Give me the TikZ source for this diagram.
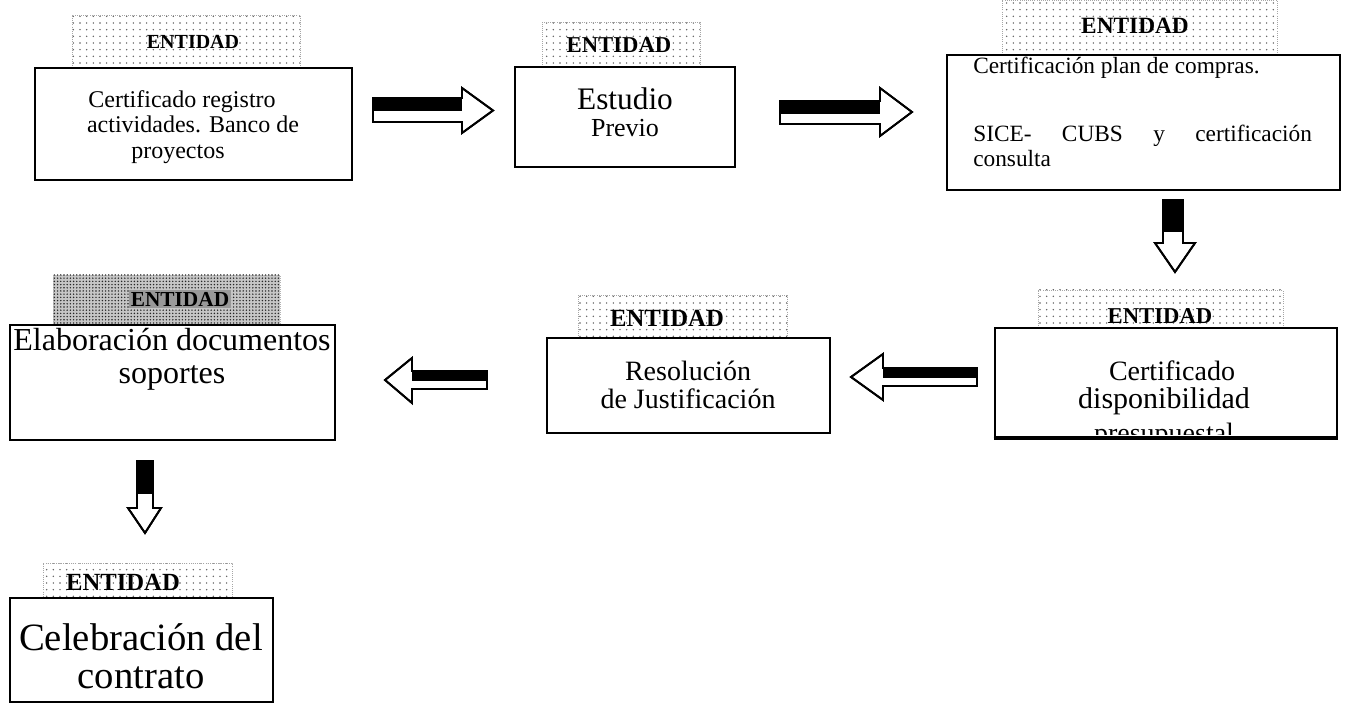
\documentclass[tikz,border=0pt]{standalone}
\usepackage{fontspec}
\setmainfont{Liberation Serif}
\usetikzlibrary{patterns.meta,fit}
\tikzset{
  box/.style={draw=black, line width=2.2pt, inner sep=0pt, fill=white},
  tag/.style={draw=gray!70, densely dotted, line width=0.6pt, inner sep=0pt,
    pattern={Dots[distance=5pt, radius=0.6pt]}, pattern color=gray!70!black},
  darktag/.style={draw=gray!60, densely dotted, line width=0.6pt, inner sep=0pt, fill=gray!45,
    postaction={pattern={Dots[distance=2.4pt, radius=0.6pt]}, pattern color=black!85}},
  tagtext/.style={font=\bfseries\fontsize{#1}{#1}\selectfont, inner sep=0pt, anchor=center},
  txt/.style={font=\fontsize{#1}{#1}\selectfont, inner sep=0pt, anchor=base},
  blk/.style={draw=black, line width=1.4pt, line join=miter, fill=white},
}
\begin{document}
\begin{tikzpicture}[x=0.75pt, y=-0.75pt]
\useasboundingbox (0,0) rectangle (1345,723);

% ---------- tags (ENTIDAD) ----------
\node[tag, fit={(72,15) (300,68)}] (l1) {};
\node[tag, fit={(542,22) (700,67)}] (l2) {};
\node[tag, fit={(1002,0) (1277,55)}] (l3) {};
\node[tag, fit={(1038,290) (1283,328)}] (l4) {};
\node[tag, fit={(578,295) (787,338)}] (l5) {};
\node[darktag, fit={(53,275) (280,325)}] (l6) {};
\node[tag, fit={(43,563) (232,598)}] (l7) {};

\node[tagtext=15] (e1) at (193,42) {ENTIDAD};
\node[tagtext=17] (e2) at (619,45) {ENTIDAD};
\node[tagtext=17.5] (e3) at (1135,26) {ENTIDAD};
\node[tagtext=17] (e4) at (1160,316) {ENTIDAD};
\node[tagtext=18.5] (e5) at (667,318) {ENTIDAD};
\node[tagtext=16, fill=gray!80, inner sep=1.5pt] (e6) at (180,299) {ENTIDAD};
\node[tagtext=18.5] (e7) at (123,582) {ENTIDAD};

% ---------- boxes ----------
\node[box, fit={(35,68) (352,180)}] (b1) {};
\node[box, fit={(515,67) (735,167)}] (b2) {};
\node[box, fit={(947,55) (1340,190)}] (b3) {};
\node[box, fit={(995,328) (1337,437)}] (b4) {};
\node[box, fit={(547,338) (830,433)}] (b5) {};
\node[box, fit={(10,325) (335,440)}] (b6) {};
\node[box, fit={(10,598) (273,702)}] (b7) {};

% ---------- texts ----------
\node[txt=18] (t1a) at (182,108) {Certificado registro};
\node[txt=18] (t1b) at (193,133) {actividades. Banco de};
\node[txt=18] (t1c) at (178,159) {proyectos};

\node[txt=23.5] (t2a) at (625,110) {Estudio};
\node[txt=19.5] (t2b) at (625,137) {Previo};

\node[txt=17.5, anchor=base west] (t3a) at (973,74) {Certificación plan de compras.};
\node[txt=17.5, anchor=base west] (t3b) at (973,142) {\makebox[254pt]{SICE-\hfill CUBS\hfill y\hfill certificación}};
\node[txt=17.5, anchor=base west] (t3c) at (973,167) {consulta};

\node[txt=21] (t4a) at (1172,381) {Certificado};
\node[txt=22.5] (t4b) at (1164,408) {disponibilidad};
\begin{scope}
  \clip (995,328) rectangle (1337,434);
  \node[txt=21] (t4c) at (1164,442) {presupuestal};
\end{scope}
\draw[line width=2.2pt] (b4.south west) -- (b4.south east);

\node[txt=21] (t5a) at (688,380) {Resolución};
\node[txt=21] (t5b) at (688,408) {de Justificación};

\node[txt=24] (t6a) at (172,351) {Elaboración documentos};
\node[txt=24] (t6b) at (172,383) {soportes};

\node[txt=29] (t7a) at (141,650) {Celebración del};
\node[txt=29] (t7b) at (141,688) {contrato};

% ---------- block arrows ----------
% right arrow b1 -> b2
\path[blk] (373,98) -- (462,98) -- (462,88) -- (493,110.5) -- (462,133) -- (462,122) -- (373,122) -- cycle;
\fill[black] (373,98) rectangle (462,111);
\path[blk, fill=none] (373,98) -- (462,98) -- (462,88) -- (493,110.5) -- (462,133) -- (462,122) -- (373,122) -- cycle;

% right arrow b2 -> b3
\path[blk] (780,101) -- (880,101) -- (880,88) -- (912,112) -- (880,136) -- (880,124) -- (780,124) -- cycle;
\fill[black] (780,101) rectangle (880,114);
\path[blk, fill=none] (780,101) -- (880,101) -- (880,88) -- (912,112) -- (880,136) -- (880,124) -- (780,124) -- cycle;

% down arrow b3 -> b4
\path[blk] (1163,200) -- (1183,200) -- (1183,243) -- (1195,243) -- (1175,272) -- (1155,243) -- (1163,243) -- cycle;
\fill[black] (1163,200) rectangle (1183,232);
\path[blk, fill=none] (1163,200) -- (1183,200) -- (1183,243) -- (1195,243) -- (1175,272) -- (1155,243) -- (1163,243) -- cycle;

% left arrow b4 -> b5
\path[blk] (977,368) -- (883,368) -- (883,354) -- (851,377) -- (883,400) -- (883,386) -- (977,386) -- cycle;
\fill[black] (883,368) rectangle (977,378);
\path[blk, fill=none] (977,368) -- (883,368) -- (883,354) -- (851,377) -- (883,400) -- (883,386) -- (977,386) -- cycle;

% left arrow b5 -> b6
\path[blk] (487,371) -- (412,371) -- (412,358) -- (385,380) -- (412,403) -- (412,389) -- (487,389) -- cycle;
\fill[black] (412,371) rectangle (487,381);
\path[blk, fill=none] (487,371) -- (412,371) -- (412,358) -- (385,380) -- (412,403) -- (412,389) -- (487,389) -- cycle;

% down arrow b6 -> b7
\path[blk] (137,461) -- (153,461) -- (153,508) -- (161,508) -- (145,533) -- (128,508) -- (137,508) -- cycle;
\fill[black] (137,461) rectangle (153,494);
\path[blk, fill=none] (137,461) -- (153,461) -- (153,508) -- (161,508) -- (145,533) -- (128,508) -- (137,508) -- cycle;
\end{tikzpicture}
\end{document}
